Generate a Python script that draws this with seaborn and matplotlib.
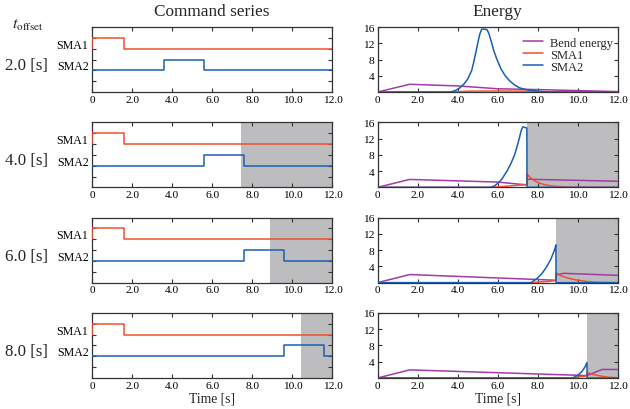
import matplotlib
matplotlib.use("Agg")
import matplotlib.pyplot as plt
import matplotlib.transforms as mtransforms
from matplotlib.ticker import FixedLocator
import pandas as pd
import seaborn as sns

# ---------------------------------------------------------------- data
OFFSET_LABELS = ["2.0 [s]", "4.0 [s]", "6.0 [s]", "8.0 [s]"]

# command levels (low, high) on the command-series axis
SMA1_LEVELS = (4, 5)
SMA2_LEVELS = (2, 3)
SMA1_ON = (0.0, 1.6)
SMA2_ON = [(3.6, 5.6), (5.6, 7.6), (7.6, 9.6), (9.6, 11.6)]

# start of the failure interval (None = no failure)
SHADE_START = [None, 7.45, 8.9, 10.45]

# energies per offset row
BEND_T = [
    [0, 1.6, 4.0, 6.0, 8.0, 12.0],
    [0, 1.6, 6.0, 7.45, 7.46, 12.0],
    [0, 1.6, 8.9, 8.91, 9.3, 12.0],
    [0, 1.6, 10.45, 11.2, 12.0],
]
BEND_V = [
    [0, 1.9, 1.5, 0.8, 0.6, 0.1],
    [0, 1.95, 1.3, 0.6, 2.0, 1.5],
    [0, 2.0, 0.6, 1.9, 2.3, 1.8],
    [0, 2.0, 0.6, 2.1, 2.1],
]
SMA1_T = [
    [0, 3.6, 4.5, 6.0, 7.5, 8.5, 12.0],
    [0, 5.6, 6.5, 7.45, 7.46, 7.6, 7.8, 8.0, 8.3, 8.6, 9.0, 9.5, 12.0],
    [0, 7.6, 8.5, 8.9, 8.91, 9.2, 9.6, 10.0, 10.5, 11.0, 12.0],
    [0, 9.6, 10.45, 10.46, 11.0, 11.5, 12.0],
]
SMA1_V = [
    [0, 0, 0.2, 0.25, 0.2, 0.05, 0],
    [0, 0, 0.3, 0.7, 3.3, 2.5, 1.7, 1.2, 0.7, 0.4, 0.2, 0.05, 0],
    [0, 0, 0.3, 0.5, 2.4, 1.6, 1.0, 0.6, 0.25, 0.1, 0],
    [0, 0, 0.5, 1.3, 0.6, 0.2, 0.05],
]
SMA2_T = [
    [0, 3.65, 3.9, 4.1, 4.3, 4.5, 4.7, 4.83, 5.0, 5.1, 5.2, 5.45, 5.55, 5.7,
     5.8, 5.96, 6.15, 6.37, 6.6, 6.85, 7.1, 7.5, 8.0, 8.5, 12.0],
    [0, 5.65, 5.85, 6.0, 6.2, 6.46, 6.65, 6.84, 6.95, 7.07, 7.17, 7.25, 7.45,
     7.46, 12.0],
    [0, 7.65, 7.95, 8.2, 8.45, 8.65, 8.83, 8.9, 8.91, 12.0],
    [0, 9.75, 10.0, 10.2, 10.35, 10.45, 10.46, 12.0],
]
SMA2_V = [
    [0, 0, 0.4, 1.0, 1.9, 3.2, 5.3, 8.0, 12.0, 14.2, 15.5, 15.4, 14.5, 12.0,
     10.2, 8.0, 5.8, 4.0, 2.7, 1.7, 1.0, 0.5, 0.2, 0.0, 0.0],
    [0, 0, 0.4, 1.0, 2.0, 4.0, 5.8, 8.0, 9.8, 12.0, 14.0, 14.9, 14.6, 0, 0],
    [0, 0, 1.0, 2.2, 4.0, 5.8, 8.0, 9.3, 0, 0],
    [0, 0, 0.7, 1.6, 2.7, 3.8, 0, 0],
]

XTICKS = [0, 2, 4, 6, 8, 10, 12]
XTICK_LABELS = ["0", "2.0", "4.0", "6.0", "8.0", "10.0", "12.0"]
ETICKS = [4, 8, 12, 16]
ETICK_LABELS = ["4", "8", "12", "16"]

# ---------------------------------------------------------------- style
C_BEND = "#a23aa8"
C_SMA1 = "#f0502d"
C_SMA2 = "#1a5fb4"
C_SHADE = "#bdbdbf"
C_FRAME = "#333333"

sns.set_style("ticks")
plt.rcParams.update({
    "font.family": "serif",
    "font.serif": ["Liberation Serif", "DejaVu Serif"],
    "mathtext.fontset": "stix",
    "axes.edgecolor": C_FRAME,
    "axes.linewidth": 0.9,
    "xtick.color": C_FRAME,
    "ytick.color": C_FRAME,
    "xtick.labelcolor": "black",
    "ytick.labelcolor": "black",
})

T_END = 12.0


def step_trace(levels, on, off):
    lo, hi = levels
    xs = [0.0, on, on, off, off, T_END]
    ys = [lo, lo, hi, hi, lo, lo]
    return pd.DataFrame({"t": xs, "v": ys})


def draw_line(ax, t, v, color, label=None):
    df = pd.DataFrame({"t": t, "v": v})
    sns.lineplot(data=df, x="t", y="v", ax=ax, color=color, lw=1.1,
                 sort=False, estimator=None, errorbar=None, label=label,
                 legend=False, zorder=3)


fig, axes = plt.subplots(4, 2, figsize=(6.3, 4.1), dpi=100)
fig.subplots_adjust(left=92 / 630, right=618 / 630, top=1 - 28 / 410,
                    bottom=1 - 379 / 410, wspace=45 / 240, hspace=30.3 / 65)

for r in range(4):
    axc, axe = axes[r]

    # -------- command series
    if SHADE_START[r] is not None:
        axc.axvspan(SHADE_START[r], T_END, color=C_SHADE, lw=0, zorder=0)
    s1 = step_trace(SMA1_LEVELS, *SMA1_ON)
    s2 = step_trace(SMA2_LEVELS, *SMA2_ON[r])
    draw_line(axc, s1["t"], s1["v"], C_SMA1)
    draw_line(axc, s2["t"], s2["v"], C_SMA2)
    axc.set_xlim(0, T_END)
    axc.set_ylim(0, 6)
    axc.set_yticks([2.5, 4.5], ["SMA2", "SMA1"])
    axc.yaxis.set_minor_locator(FixedLocator([1, 2, 3, 4, 5]))
    axc.tick_params(axis="y", which="major", length=0, pad=2.5, labelsize=8.6)
    axc.tick_params(axis="y", which="minor", direction="in", left=True,
                    right=True, length=3, width=0.8)
    trans = mtransforms.blended_transform_factory(axc.transAxes, axc.transData)
    axc.text(-0.273, 2.5, OFFSET_LABELS[r], transform=trans, ha="center",
             va="center", fontsize=12.2)

    # -------- energy
    if SHADE_START[r] is not None:
        axe.axvspan(SHADE_START[r], T_END, color=C_SHADE, lw=0, zorder=0)
    draw_line(axe, BEND_T[r], BEND_V[r], C_BEND, "Bend energy")
    draw_line(axe, SMA1_T[r], SMA1_V[r], C_SMA1, "SMA1")
    draw_line(axe, SMA2_T[r], SMA2_V[r], C_SMA2, "SMA2")
    axe.set_xlim(0, T_END)
    axe.set_ylim(0, 16)
    axe.set_yticks(ETICKS, ETICK_LABELS)
    axe.tick_params(axis="y", direction="in", left=True, right=True,
                    length=3, width=0.8, labelsize=8.2, pad=2.5)

    for ax in (axc, axe):
        ax.set_xticks(XTICKS, XTICK_LABELS)
        ax.tick_params(axis="x", direction="in", top=True, bottom=True,
                       length=3, width=0.8, labelsize=8.2, pad=2)
        ax.set_xlabel("")
        ax.set_ylabel("")
        for sp in ax.spines.values():
            sp.set_visible(True)

axes[0, 0].set_title("Command series", fontsize=12.4, pad=9)
axes[0, 1].set_title("Energy", fontsize=12.4, pad=9)
axes[3, 0].set_xlabel("Time [s]", fontsize=9.8, labelpad=1)
axes[3, 1].set_xlabel("Time [s]", fontsize=9.8, labelpad=1)

axes[0, 1].legend(loc="upper right", bbox_to_anchor=(1.0, 0.93),
                  frameon=False, fontsize=9,
                  handlelength=1.6, handletextpad=0.6, labelspacing=0.0,
                  borderaxespad=0.1, borderpad=0.3)

fig.text(28 / 630, 1 - 25.5 / 410, r"$t_{\mathrm{offset}}$", ha="center",
         va="center", fontsize=11.5)

fig.savefig("out.png", dpi=100)
